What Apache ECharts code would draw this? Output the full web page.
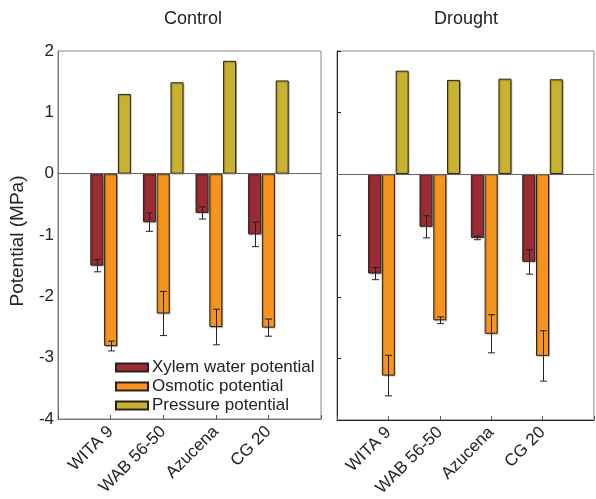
<!DOCTYPE html>
<html>
<head>
<meta charset="utf-8">
<script src="https://cdn.jsdelivr.net/npm/echarts@6/dist/echarts.min.js"></script>
<style>
html,body{margin:0;padding:0;background:#fff;}
#chart{width:596px;height:499px;}
</style>
</head>
<body>
<div id="chart"></div>
<script>
// ---- data ----
const categories = ['WITA 9', 'WAB 56-50', 'Azucena', 'CG 20'];
const seriesNames = ['Xylem water potential', 'Osmotic potential', 'Pressure potential'];
const panelTitles = ['Control', 'Drought'];
const yTicks = [-4, -3, -2, -1, 0, 1, 2];

// Control
const controlXylem = [-1.50, -0.79, -0.64, -0.99];
const controlXylemErr = [0.10, 0.15, 0.10, 0.20];
const controlOsmotic = [-2.81, -2.28, -2.50, -2.51];
const controlOsmoticErr = [0.08, 0.36, 0.29, 0.14];
const controlPressure = [1.30, 1.49, 1.84, 1.52];

// Drought
const droughtXylem = [-1.62, -0.86, -1.04, -1.43];
const droughtXylemErr = [0.10, 0.18, 0.03, 0.20];
const droughtOsmotic = [-3.28, -2.38, -2.60, -2.96];
const droughtOsmoticErr = [0.33, 0.055, 0.31, 0.41];
const droughtPressure = [1.68, 1.53, 1.55, 1.54];

const colors = ['#9B2B35', '#F7941D', '#C8B22F'];
const FONT = 'Liberation Sans, Arial, sans-serif';
const BW = 13, GAP = '6%';
const OFF = BW * 1.06;

const axisCats = [''].concat(categories, ['']);
function pts(arr) { return arr.map((v, i) => [i + 1, v]); }
function errPts(vals, errs) { return vals.map((v, i) => [i + 1, v - errs[i], v + errs[i]]); }

function errRender(offset) {
  return function (params, api) {
    const x = api.value(0), lo = api.value(1), hi = api.value(2);
    const p1 = api.coord([x, hi]);
    const p2 = api.coord([x, lo]);
    const cx = Math.round(p1[0] + offset) + 0.5;
    const hw = 3.5;
    const st = { stroke: '#222', lineWidth: 1 };
    return {
      type: 'group',
      children: [
        { type: 'line', shape: { x1: cx, y1: p1[1], x2: cx, y2: p2[1] }, style: st },
        { type: 'line', shape: { x1: cx - hw, y1: p1[1], x2: cx + hw, y2: p1[1] }, style: st },
        { type: 'line', shape: { x1: cx - hw, y1: p2[1], x2: cx + hw, y2: p2[1] }, style: st }
      ]
    };
  };
}

const barStyle = (c) => ({
  color: c, borderColor: '#2a2218', borderWidth: 1,
  shadowColor: 'rgba(0,0,0,0.25)', shadowBlur: 1, shadowOffsetX: 1, shadowOffsetY: 1
});

function panelSeries(idx, xyl, xylErr, osm, osmErr, pres) {
  const base = { type: 'bar', xAxisIndex: idx, yAxisIndex: idx, barWidth: BW, barGap: GAP, animation: false };
  return [
    Object.assign({}, base, { name: seriesNames[0], data: pts(xyl), itemStyle: barStyle(colors[0]) }),
    Object.assign({}, base, { name: seriesNames[1], data: pts(osm), itemStyle: barStyle(colors[1]) }),
    Object.assign({}, base, {
      name: seriesNames[2], data: pts(pres), itemStyle: barStyle(colors[2]),
      markLine: {
        silent: true, symbol: 'none', label: { show: false },
        lineStyle: { color: '#666', width: 1, type: 'solid' },
        data: [{ yAxis: 0 }], animation: false
      }
    }),
    { type: 'custom', name: 'err-x' + idx, xAxisIndex: idx, yAxisIndex: idx, z: 5,
      renderItem: errRender(-OFF), data: errPts(xyl, xylErr), animation: false },
    { type: 'custom', name: 'err-o' + idx, xAxisIndex: idx, yAxisIndex: idx, z: 5,
      renderItem: errRender(0), data: errPts(osm, osmErr), animation: false }
  ];
}

function xAxis(idx, lineColor) {
  return {
    type: 'category', gridIndex: idx, data: axisCats, boundaryGap: false,
    axisLine: { show: true, onZero: false, lineStyle: { color: lineColor, width: 1 } },
    axisTick: { show: true, inside: true, length: 4, interval: 0, lineStyle: { color: '#555' } },
    axisLabel: { interval: 0, rotate: 45, margin: 10, fontSize: 17, color: '#222', fontFamily: FONT },
    splitLine: { show: false }
  };
}
function yAxis(idx, lineColor, showLabels) {
  return {
    type: 'value', gridIndex: idx, min: yTicks[0], max: yTicks[yTicks.length - 1], interval: 1,
    axisLine: { show: true, lineStyle: { color: lineColor, width: 1 } },
    axisTick: { show: !showLabels, inside: true, length: 4, lineStyle: { color: lineColor } },
    axisLabel: { show: showLabels, fontSize: 17, color: '#222', margin: 4, fontFamily: FONT },
    splitLine: { show: false }
  };
}

const chart = echarts.init(document.getElementById('chart'), null, { renderer: 'canvas' });
chart.setOption({
  animation: false,
  backgroundColor: '#fff',
  grid: [
    { left: 58, right: 275, top: 51, bottom: 80, show: true, borderColor: '#888', borderWidth: 1 },
    { left: 337, right: -4, top: 51, bottom: 76, show: true, borderColor: '#888', borderWidth: 1 }
  ],
  xAxis: [xAxis(0, '#777'), xAxis(1, '#222')],
  yAxis: [yAxis(0, '#777', true), yAxis(1, '#222', false)],
  legend: {
    data: seriesNames, orient: 'vertical', left: 110, top: 354, itemWidth: 32, itemHeight: 8,
    itemGap: 2, icon: 'rect',
    textStyle: { fontSize: 17, color: '#222', fontFamily: FONT, padding: [0, 0, 0, -1] }
  },
  graphic: [
    { type: 'text', x: 193, y: 19, style: { text: panelTitles[0], font: '18px ' + FONT, fill: '#222', align: 'center', verticalAlign: 'middle' } },
    { type: 'text', x: 466, y: 19, style: { text: panelTitles[1], font: '18px ' + FONT, fill: '#222', align: 'center', verticalAlign: 'middle' } },
    { type: 'text', x: 18, y: 241, rotation: Math.PI / 2,
      style: { text: 'Potential (MPa)', font: '19px ' + FONT, fill: '#222', align: 'center', verticalAlign: 'middle' } }
  ],
  series: [].concat(
    panelSeries(0, controlXylem, controlXylemErr, controlOsmotic, controlOsmoticErr, controlPressure),
    panelSeries(1, droughtXylem, droughtXylemErr, droughtOsmotic, droughtOsmoticErr, droughtPressure)
  )
});
</script>
</body>
</html>
